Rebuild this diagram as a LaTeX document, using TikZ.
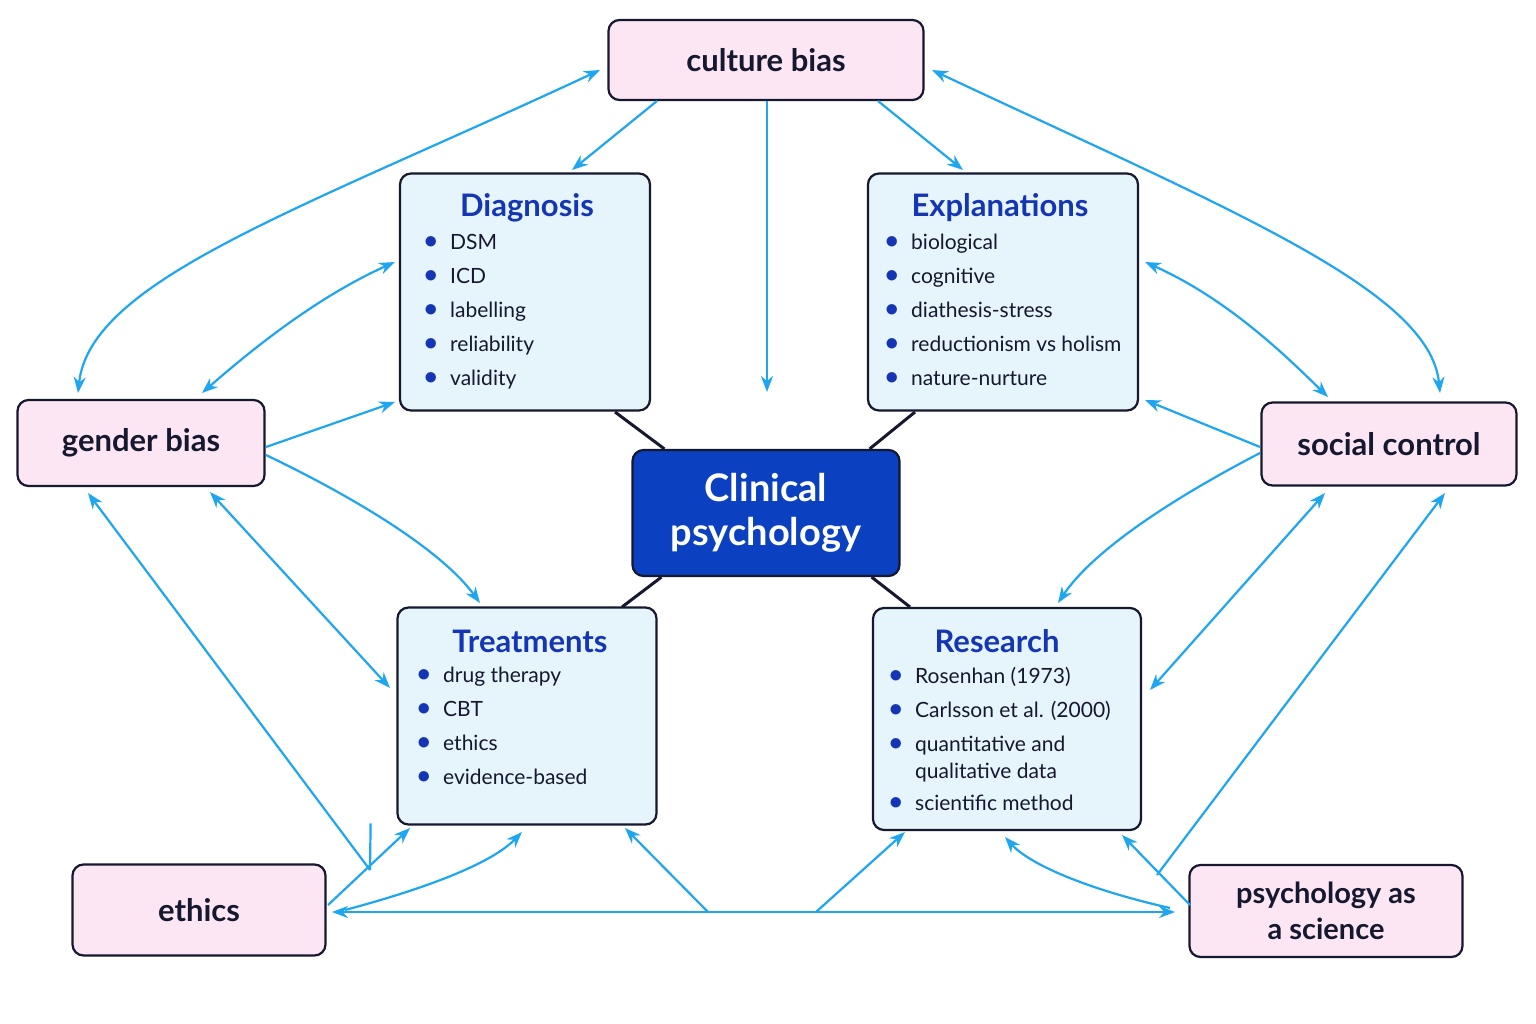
\documentclass[tikz,border=0pt]{standalone}
\usepackage{fontspec}
\setmainfont{Lato}
\usetikzlibrary{arrows.meta}
\definecolor{pinkf}{HTML}{FCE6F4}
\definecolor{bluef}{HTML}{E6F4FC}
\definecolor{edge}{HTML}{15182E}
\definecolor{titc}{HTML}{1436B4}
\definecolor{centf}{HTML}{0B40C0}
\definecolor{arr}{HTML}{1EA7F0}
\newcommand{\itm}{\makebox[26pt][l]{\textcolor{titc}{\raisebox{1pt}{\scalebox{1.3}{$\bullet$}}}}}
\tikzset{
 pinkbox/.style={draw=edge,line width=2.2pt,rounded corners=11pt,fill=pinkf,font=\fontsize{31}{36}\selectfont\bfseries,align=center,text=edge},
 bluebox/.style={draw=edge,line width=2.2pt,rounded corners=11pt,fill=bluef},
 ttl/.style={font=\fontsize{31}{36}\selectfont\bfseries,text=titc},
 lst/.style={font=\fontsize{21}{34}\selectfont,align=left,anchor=north west,text=edge,inner sep=0pt},
 ar/.style={draw=arr,line width=2.2pt,-{Stealth[length=16pt,width=12pt]}},
 dar/.style={draw=arr,line width=2.2pt,{Stealth[length=16pt,width=12pt]}-{Stealth[length=16pt,width=12pt]}},
 ln/.style={draw=arr,line width=2.2pt},
 blk/.style={draw=edge,line width=3pt}
}
\begin{document}
\begin{tikzpicture}[x=1pt,y=-1pt]
\useasboundingbox[fill=white] (0,0) rectangle (1536,1024);
% boxes
\node[pinkbox,minimum width=315pt,minimum height=80pt] (cb) at (766,60) {culture bias};
\node[pinkbox,minimum width=247pt,minimum height=86pt] (gb) at (141,443) {gender bias};
\node[pinkbox,minimum width=255pt,minimum height=83pt] (sc) at (1389,444) {social control};
\node[pinkbox,minimum width=253pt,minimum height=91pt] (et) at (199,910) {ethics};
\node[pinkbox,minimum width=273pt,minimum height=92pt,font=\fontsize{29}{36}\selectfont\bfseries] (ps) at (1326,911) {psychology as\\a science};
\node[draw=edge,line width=2.2pt,rounded corners=11pt,fill=centf,text=white,font=\fontsize{38}{44}\selectfont\bfseries,align=center,minimum width=267pt,minimum height=126pt] (cp) at (766,513) {Clinical\\psychology};
\node[bluebox,minimum width=250pt,minimum height=237pt] (dg) at (525,292) {};
\node[bluebox,minimum width=270pt,minimum height=237pt] (ex) at (1003,292) {};
\node[bluebox,minimum width=259pt,minimum height=217pt] (tr) at (527,716) {};
\node[bluebox,minimum width=268pt,minimum height=222pt] (rs) at (1007,719) {};
\node[ttl] (dgt) at (527,208) {Diagnosis};
\node[ttl] (ext) at (1000,208) {Explanations};
\node[ttl] (trt) at (530,641) {Treatments};
\node[ttl] (rst) at (997,641) {Research};
\node[lst] (dgl) at (424,234) {\itm DSM\\\itm ICD\\\itm labelling\\\itm reliability\\\itm validity};
\node[lst] (exl) at (885,234) {\itm biological\\\itm cognitive\\\itm diathesis-stress\\\itm reductionism vs holism\\\itm nature-nurture};
\node[lst] (trl) at (417,667) {\itm drug therapy\\\itm CBT\\\itm ethics\\\itm evidence-based};
\node[lst,font=\fontsize{21}{27}\selectfont] (rsl) at (889,667) {\itm Rosenhan (1973)\\[7pt]\itm Carlsson et al. (2000)\\[7pt]\itm quantitative and\\\makebox[26pt]{}qualitative data\\[5pt]\itm scientific method};
% black connectors
\draw[blk] (cp.north west)++(33,0) -- (615,412);
\draw[blk] (cp.north east)++(-31,0) -- (915,412);
\draw[blk] (cp.south west)++(30,0) -- (622,607);
\draw[blk] (cp.south east)++(-29,0) -- (910,607);
% coordinates
\coordinate (d1) at (767,392);
\coordinate (m1) at (708,912);
\coordinate (m2) at (816,912);
\coordinate (j1) at (370,870);
\coordinate (j2) at (1157,875);
% culture bias arrows
\draw[ar] (657,101) -- (572,170);
\draw[ar] (767,101) -- (d1);
\draw[ar] (878,101) -- (963,170);
\draw[dar] (600,70) .. controls (300,210) and (90,280) .. (78,393);
\draw[dar] (932,70) .. controls (1230,210) and (1430,290) .. (1440,393);
% gender bias
\draw[dar] (395,262) .. controls (310,300) and (240,360) .. (202,393);
\draw[ar] (266,447) -- (395,402);
\draw[ar] (266,455) .. controls (370,505) and (445,555) .. (480,603);
\draw[dar] (210,492) -- (390,688);
\draw[ar] (j1) -- (88,493);
% social control
\draw[dar] (1145,262) .. controls (1230,300) and (1290,360) .. (1328,397);
\draw[ar] (1260,447) -- (1145,400);
\draw[ar] (1260,453) .. controls (1160,505) and (1090,555) .. (1058,603);
\draw[dar] (1325,493) -- (1150,690);
\draw[ar] (j2) -- (1445,493);
% bottom
\draw[dar] (332,912) -- (1175,912);
\draw[ar] (328,905) -- (410,828);
\draw[ar] (345,910) .. controls (420,890) and (490,865) .. (522,832);
\draw[ar] (m1) -- (625,828);
\draw[ar] (m2) -- (905,832);
\draw[ar] (1170,908) .. controls (1090,890) and (1030,865) .. (1005,837);
\draw[ar] (1190,905) -- (1122,835);
\draw[ln] (et.north east)++(44,-40) -- (j1);
\end{tikzpicture}
\end{document}
